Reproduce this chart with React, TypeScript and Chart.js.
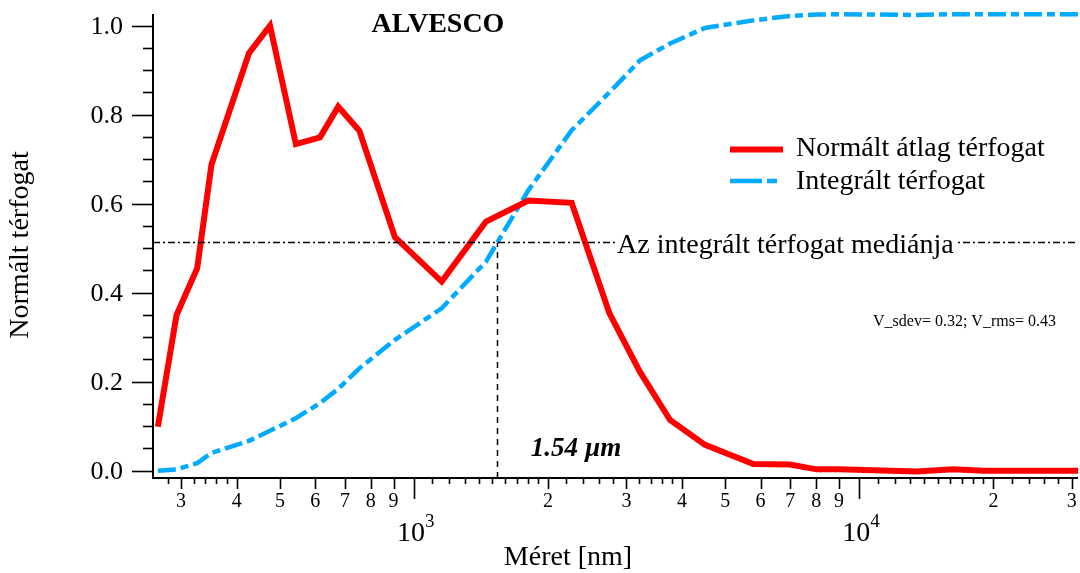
import React, { useEffect, useRef } from 'react';
import { Chart, registerables } from 'chart.js';
Chart.register(...registerables);

// ---- data ----
const sizes = [266, 293, 326, 351, 426, 475, 543, 615, 676, 754, 906, 1154, 1451, 1806, 2260, 2746, 3217, 3758, 4504, 5781, 6985, 8023, 9000, 13450, 16260, 18990, 31000];
const normVolume = [0.099, 0.35, 0.455, 0.688, 0.938, 1.0, 0.734, 0.749, 0.818, 0.764, 0.525, 0.425, 0.56, 0.607, 0.602, 0.354, 0.222, 0.114, 0.058, 0.015, 0.014, 0.003, 0.003, -0.002, 0.003, 0.0, 0.0];
const intVolume = [0.0, 0.003, 0.017, 0.04, 0.067, 0.09, 0.118, 0.152, 0.184, 0.23, 0.294, 0.365, 0.47, 0.63, 0.765, 0.85, 0.922, 0.96, 0.995, 1.012, 1.022, 1.025, 1.026, 1.024, 1.026, 1.026, 1.026];
const medianValue = 0.513;
const medianSize = 1540;

const seriesNames = ['Normált átlag térfogat', 'Integrált térfogat'];
const titleText = 'ALVESCO';
const medianLabel = 'Az integrált térfogat mediánja';
const medianSizeLabel = '1.54 µm';
const statsLabel = 'V_sdev= 0.32; V_rms= 0.43';
const xTitle = 'Méret [nm]';
const yTitle = 'Normált térfogat';

const yTickValues = [0, 0.05, 0.1, 0.15, 0.2, 0.25, 0.3, 0.35, 0.4, 0.45, 0.5, 0.55, 0.6, 0.65, 0.7, 0.75, 0.8, 0.85, 0.9, 0.95, 1.0];
const yLabelValues = [0, 0.2, 0.4, 0.6, 0.8, 1.0];
const xDecadeTicks = [1000, 10000];
const xDecadeExps = ['3', '4'];
const xLabeledTicks = [300, 400, 500, 600, 700, 800, 900, 2000, 3000, 4000, 5000, 6000, 7000, 8000, 9000, 20000, 30000];
const xSmallTicks = [280, 320, 340, 360, 380, 1100, 1200, 1300, 1400, 1500, 1600, 1700, 1800, 1900, 2200, 2400, 2600, 2800, 3200, 3400, 3600, 3800, 11000, 12000, 13000, 14000, 15000, 16000, 17000, 18000, 19000, 22000, 24000, 26000, 28000];

const SERIF = "'Liberation Serif', 'Times New Roman', serif";
const RED = 'rgb(255,0,0)';
const BLUE = 'rgb(0,170,255)';

const overlay = {
  id: 'overlay',
  afterDatasetsDraw(chart: any) {
    const ctx = chart.ctx as CanvasRenderingContext2D;
    const xs = chart.scales.x;
    const ys = chart.scales.y;
    const { left, right, top, bottom } = chart.chartArea;
    ctx.save();
    ctx.fillStyle = '#000';
    ctx.strokeStyle = '#000';

    // median label with white background
    const my = ys.getPixelForValue(medianValue);
    ctx.font = `28px ${SERIF}`;
    ctx.textBaseline = 'middle';
    ctx.textAlign = 'left';
    const mx = 617;
    const mw = ctx.measureText(medianLabel).width;
    ctx.fillStyle = '#fff';
    ctx.fillRect(mx - 2, my - 14, mw + 4, 26);
    ctx.fillStyle = '#000';
    ctx.fillText(medianLabel, mx, my + 3);

    // axes lines
    ctx.lineWidth = 2;
    ctx.beginPath();
    ctx.moveTo(left, top);
    ctx.lineTo(left, bottom);
    ctx.lineTo(right, bottom);
    ctx.stroke();

    // y ticks
    ctx.lineWidth = 1.6;
    for (const v of yTickValues) {
      const py = Math.round(ys.getPixelForValue(v)) + 0.5;
      const major = yLabelValues.some((l) => Math.abs(l - v) < 1e-6);
      const len = major ? 21 : 10;
      ctx.beginPath();
      ctx.moveTo(left - len, py);
      ctx.lineTo(left, py);
      ctx.stroke();
    }
    ctx.font = `26px ${SERIF}`;
    ctx.textAlign = 'right';
    ctx.textBaseline = 'middle';
    for (const v of yLabelValues) {
      ctx.fillText(v.toFixed(1), 123, ys.getPixelForValue(v) + 1);
    }

    // x ticks
    const drawX = (v: number, len: number) => {
      const px = Math.round(xs.getPixelForValue(v)) + 0.5;
      ctx.beginPath();
      ctx.moveTo(px, bottom);
      ctx.lineTo(px, bottom + len);
      ctx.stroke();
    };
    for (const v of xSmallTicks) drawX(v, 6);
    for (const v of xLabeledTicks) drawX(v, 11);
    for (const v of xDecadeTicks) drawX(v, 21);
    ctx.font = `20px ${SERIF}`;
    ctx.textAlign = 'center';
    ctx.textBaseline = 'middle';
    for (const v of xLabeledTicks) {
      const lead = String(v).charAt(0);
      ctx.fillText(lead, xs.getPixelForValue(v), 502);
    }
    xDecadeTicks.forEach((v, i) => {
      const px = xs.getPixelForValue(v);
      ctx.font = `28px ${SERIF}`;
      ctx.textAlign = 'right';
      ctx.fillText('10', px + 11, 534);
      ctx.font = `19px ${SERIF}`;
      ctx.textAlign = 'left';
      ctx.fillText(xDecadeExps[i], px + 11, 522);
    });

    // axis titles
    ctx.font = `28px ${SERIF}`;
    ctx.textAlign = 'center';
    ctx.fillText(xTitle, 568, 558);
    ctx.save();
    ctx.translate(21, 245);
    ctx.rotate(-Math.PI / 2);
    ctx.fillText(yTitle, 0, 0);
    ctx.restore();

    // title
    ctx.font = `bold 28px ${SERIF}`;
    ctx.fillText(titleText, 438, 25);

    // median size label
    ctx.font = `italic bold 27px ${SERIF}`;
    ctx.fillText(medianSizeLabel, 576, 449);

    // stats
    ctx.font = `16px ${SERIF}`;
    ctx.textAlign = 'left';
    ctx.fillText(statsLabel, 873, 322);

    // legend
    ctx.lineCap = 'butt';
    ctx.strokeStyle = RED;
    ctx.lineWidth = 6;
    ctx.beginPath();
    ctx.moveTo(730, 149.5);
    ctx.lineTo(783, 149.5);
    ctx.stroke();
    ctx.strokeStyle = BLUE;
    ctx.lineWidth = 4.5;
    ctx.setLineDash([32, 5, 10, 5]);
    ctx.beginPath();
    ctx.moveTo(730, 181);
    ctx.lineTo(782, 181);
    ctx.stroke();
    ctx.setLineDash([]);
    ctx.font = `28px ${SERIF}`;
    ctx.fillStyle = '#000';
    ctx.textAlign = 'left';
    ctx.fillText(seriesNames[0], 796, 149);
    ctx.fillText(seriesNames[1], 796, 182);

    ctx.restore();
  },
};

export default function App() {
  const canvasRef = useRef<HTMLCanvasElement | null>(null);
  useEffect(() => {
    if (!canvasRef.current) return;
    const chart = new Chart(canvasRef.current, {
      type: 'line',
      data: {
        datasets: [
          {
            label: 'median',
            data: [{ x: 259.4, y: medianValue }, { x: 30977, y: medianValue }],
            borderColor: '#000',
            borderWidth: 1.5,
            borderDash: [7, 3, 2, 3],
            pointRadius: 0,
            clip: false as any,
          },
          {
            label: 'median-size',
            data: [{ x: medianSize, y: -0.0164 }, { x: medianSize, y: medianValue }],
            borderColor: '#000',
            borderWidth: 1.5,
            borderDash: [6, 5],
            pointRadius: 0,
          },
          {
            label: seriesNames[0],
            data: sizes.map((s, i) => ({ x: s, y: normVolume[i] })),
            borderColor: RED,
            borderWidth: 6,
            pointRadius: 0,
            tension: 0,
            borderJoinStyle: 'miter' as any,
            clip: false as any,
          },
          {
            label: seriesNames[1],
            data: sizes.map((s, i) => ({ x: s, y: intVolume[i] })),
            borderColor: BLUE,
            borderWidth: 4.5,
            borderDash: [18, 5, 8, 5],
            pointRadius: 0,
            tension: 0,
            clip: false as any,
          },
        ],
      },
      options: {
        animation: false,
        responsive: false,
        maintainAspectRatio: false,
        layout: { padding: { left: 153, right: 2, top: 14, bottom: 95 } },
        plugins: { legend: { display: false }, tooltip: { enabled: false } },
        scales: {
          x: { type: 'logarithmic', min: 259.4, max: 30977, display: false },
          y: { type: 'linear', min: -0.0164, max: 1.0263, display: false },
        },
      },
      plugins: [overlay],
    });
    return () => chart.destroy();
  }, []);
  return (
    <div style={{ position: 'absolute', left: 0, top: 0, width: 1080, height: 573, background: '#fff' }}>
      <canvas ref={canvasRef} width={1080} height={573} style={{ width: 1080, height: 573 }} />
    </div>
  );
}
